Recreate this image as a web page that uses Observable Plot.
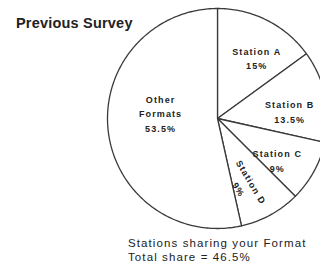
<!DOCTYPE html>
<html><head><meta charset="utf-8">
<script src="https://cdn.jsdelivr.net/npm/d3@7"></script>
<script src="https://cdn.jsdelivr.net/npm/@observablehq/plot@0.6"></script>
<style>
body{margin:0;background:#fff;}
#wrap{position:relative;width:320px;height:265px;overflow:hidden;background:#fff;font-family:"Liberation Sans",Arial,sans-serif;color:#222;}
#wrap svg{position:absolute;left:0;top:0;}
#wrap svg text{letter-spacing:1.1px;}
#title{position:absolute;left:16px;top:15px;font-weight:bold;font-size:14.5px;letter-spacing:0.2px;color:#222;}
#cap{position:absolute;left:128px;top:236px;font-size:11.5px;line-height:14px;letter-spacing:1.1px;color:#222;}
</style></head>
<body><div id="wrap"><div id="title">Previous Survey</div><div id="cap">Stations sharing your Format<br>Total share = 46.5%</div></div>
<script>
const names = ["Station A", "Station B", "Station C", "Station D", "Other Formats"];
const shares = [15, 13.5, 9, 9, 53.5];
const titleText = "Previous Survey";

const arcs = d3.pie().sort(null).value(d => d)(shares);
const wedgeRows = [];
arcs.forEach((a, i) => {
  wedgeRows.push({slice: names[i], x: 0, y: 0});
  const n = Math.max(2, Math.ceil((a.endAngle - a.startAngle) / (Math.PI / 180)));
  for (let k = 0; k <= n; k++) {
    const t = a.startAngle + (a.endAngle - a.startAngle) * k / n;
    wedgeRows.push({slice: names[i], x: Math.sin(t), y: Math.cos(t)});
  }
  wedgeRows.push({slice: names[i], x: 0, y: 0});
});

const labelRows = arcs.map((a, i) => {
  const mid = (a.startAngle + a.endAngle) / 2;
  const big = shares[i] > 50;
  const r = big ? 0.52 : 0.66;
  const ang = mid + (big ? 0.21 : 0.1);
  const deg = mid * 180 / Math.PI;
  const rotated = deg > 135 && deg < 180;
  const nm = names[i] === "Other Formats" ? "Other\nFormats" : names[i];
  return {
    x: Math.sin(ang) * r, y: Math.cos(ang) * r,
    text: nm + "\n" + shares[i] + "%",
    rotate: rotated ? deg - 92 : 0
  };
});

const R = 110, cx = 217, cy = 118, W = 320, H = 265;
const chart = Plot.plot({
  width: W, height: H,
  margin: 0,
  x: {domain: [-cx / R, (W - cx) / R], range: [0, W], axis: null},
  y: {domain: [-(H - cy) / R, cy / R], range: [H, 0], axis: null},
  marks: [
    Plot.line(wedgeRows, {x: "x", y: "y", z: "slice", fill: "white", stroke: "#3a3a3a", strokeWidth: 1.3, curve: "linear"}),
    Plot.text(labelRows, {x: "x", y: "y", text: "text", rotate: "rotate", fontSize: 9, fontWeight: "bold", lineHeight: 1.62, fill: "#222", fontFamily: "Liberation Sans, Arial, sans-serif"})
  ]
});
document.getElementById("wrap").prepend(chart);
</script>
</body></html>
